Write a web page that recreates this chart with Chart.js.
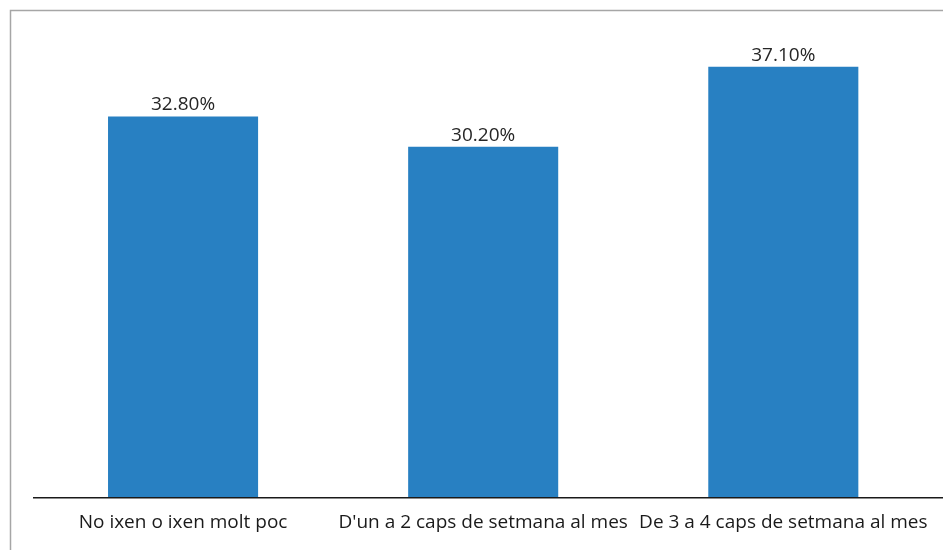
<!DOCTYPE html>
<html>
<head>
<meta charset="utf-8">
<script src="https://cdn.jsdelivr.net/npm/chart.js@4"></script>
<style>
  html, body { margin: 0; padding: 0; background: #ffffff; }
  #wrap { width: 943px; height: 550px; }
</style>
</head>
<body>
<div id="wrap"><canvas id="grafica"></canvas></div>
<script>
const categorias = ["No ixen o ixen molt poc", "D'un a 2 caps de setmana al mes", "De 3 a 4 caps de setmana al mes"];
const valores = [32.8, 30.2, 37.1];
const color_barras = "#2880C2";

// marco, linea del eje y etiquetas de valor
const extras = {
    id: 'extras',
    beforeDraw: (chart) => {
        const ctx = chart.ctx;
        ctx.save();
        ctx.strokeStyle = "#a6a6a6";
        ctx.lineWidth = 1.5;
        ctx.strokeRect(10.5, 10.5, 1000, 1000);
        ctx.restore();
    },
    afterDatasetsDraw: (chart) => {
        const ctx = chart.ctx;
        const area = chart.chartArea;
        ctx.save();
        ctx.strokeStyle = "#1a1a1a";
        ctx.lineWidth = 1.6;
        ctx.beginPath();
        ctx.moveTo(area.left, area.bottom + 0.5);
        ctx.lineTo(chart.width, area.bottom + 0.5);
        ctx.stroke();
        ctx.fillStyle = "#262626";
        ctx.font = "19px 'Open Sans'";
        ctx.textAlign = "center";
        ctx.textBaseline = "bottom";
        chart.getDatasetMeta(0).data.forEach((bar, i) => {
            ctx.fillText(valores[i].toFixed(2) + "%", bar.x, bar.y - 2);
        });
        ctx.restore();
    }
};

document.addEventListener("DOMContentLoaded", function(event) {
    new Chart(document.getElementById("grafica"), {
        type: 'bar',
        plugins: [extras],
        data: {
            labels: categorias,
            datasets: [{
                label: "",
                backgroundColor: color_barras,
                data: valores,
                categoryPercentage: 1,
                barPercentage: 0.5
            }]
        },
        options: {
            responsive: true,
            maintainAspectRatio: false,
            animation: false,
            layout: { padding: { top: 33, left: 33, right: 9, bottom: 2 } },
            plugins: {
                legend: { display: false },
                tooltip: { enabled: false }
            },
            scales: {
                x: {
                    grid: { display: false, drawTicks: false },
                    border: { display: false },
                    ticks: {
                        color: "#1a1a1a",
                        padding: 14,
                        maxRotation: 0,
                        autoSkip: false,
                        font: { family: "'Open Sans'", size: 19 }
                    }
                },
                y: {
                    display: false,
                    min: 0,
                    max: 40
                }
            }
        }
    });
});
</script>
</body>
</html>
